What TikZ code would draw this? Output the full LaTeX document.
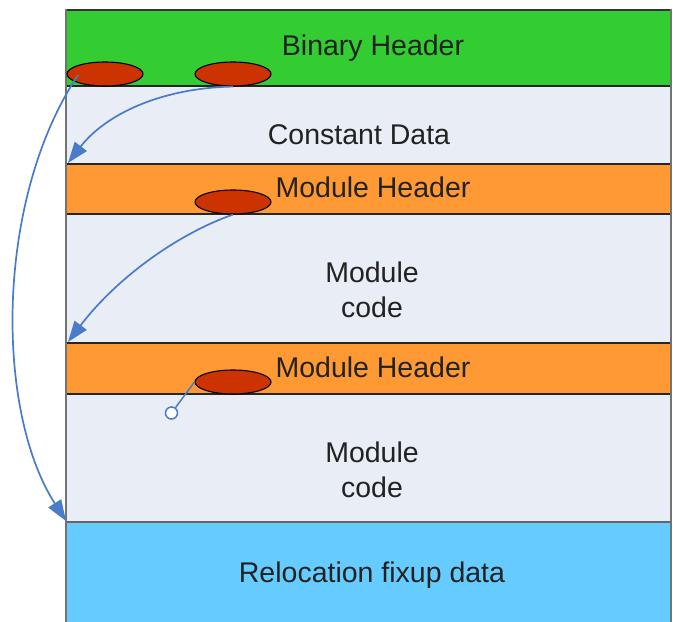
\documentclass[tikz,border=0pt]{standalone}
\usepackage{fontspec}
\setmainfont{Liberation Sans}
\usetikzlibrary{arrows.meta,shapes.geometric}
\definecolor{bgreen}{HTML}{33CC33}
\definecolor{blight}{HTML}{E9EDF6}
\definecolor{borange}{HTML}{FF9933}
\definecolor{bblue}{HTML}{66CCFF}
\definecolor{bred}{HTML}{CC3300}
\definecolor{barrow}{HTML}{4A7BC8}
\definecolor{btext}{HTML}{222222}
\tikzset{
  x=1pt,y=-1pt,
  lbl/.style={text=btext,font=\fontsize{28.5}{35}\selectfont,align=center,inner sep=0pt},
  ptr/.style={ellipse,draw=black,line width=1.1pt,fill=bred,minimum width=76pt,minimum height=24pt,inner sep=0pt},
  sep/.style={draw=black!85,line width=1.8pt},
  link/.style={draw=barrow,line width=1.7pt,-{Triangle[length=21pt,width=15pt]}},
  plain/.style={draw=barrow,line width=1.5pt},
  ring/.style={circle,draw=barrow,line width=1.5pt,fill=white,minimum size=12pt,inner sep=0pt}
}
\begin{document}
\begin{tikzpicture}
\useasboundingbox (0,0) rectangle (673,622);
\begin{scope}
\clip (0,0) rectangle (673,622);
\fill[bgreen] (66,10) rectangle (671,86);
\fill[blight] (66,86) rectangle (671,164);
\fill[borange] (66,164) rectangle (671,214);
\fill[blight] (66,214) rectangle (671,343);
\fill[borange] (66,343) rectangle (671,394);
\fill[blight] (66,394) rectangle (671,522);
\fill[bblue] (66,522) rectangle (671,640);
\draw[sep] (66,86) -- (671,86);
\draw[sep] (66,164) -- (671,164);
\draw[sep] (66,214) -- (671,214);
\draw[sep] (66,343) -- (671,343);
\draw[sep] (66,394) -- (671,394);
\draw[draw=black!60,line width=1.8pt] (66,522) -- (671,522);
\draw[draw=black!80,line width=2.5pt] (64.75,10) -- (672,10);
\draw[draw=black!55,line width=2.5pt] (66,9) -- (66,640);
\draw[draw=black!55,line width=1.5pt] (671,9) -- (671,640);
\end{scope}

\node[lbl] (tbin) at (373,48.5) {Binary Header};
\node[lbl] (tconst) at (359,135) {Constant Data};
\node[lbl] (tmh1) at (373,187) {Module Header};
\node[lbl] (tmc1) at (372,290) {Module\\code};
\node[lbl] (tmh2) at (373,367) {Module Header};
\node[lbl] (tmc2) at (372,470) {Module\\code};
\node[lbl] (treloc) at (372,575) {Relocation fixup data};

\node[ptr] (e1) at (105,74) {};
\node[ptr] (e2) at (233,74) {};
\node[ptr] (e3) at (233,202) {};
\node[ptr] (e4) at (233,382) {};

\coordinate (s1) at (78,75);
\coordinate (t1) at (68,163);
\coordinate (t2) at (68,342);
\coordinate (t3) at (66,521);
\node[ring] (r4) at (171.5,413) {};

\draw[link] (e2.south) .. controls (160,88) and (105,115) .. (t1);
\draw[link] (e3.south) .. controls (175,235) and (115,280) .. (t2);
\draw[link] (s1) .. controls (-5,200) and (-5,410) .. (t3);
\draw[plain] (e4.west) -- (r4);
\end{tikzpicture}
\end{document}
